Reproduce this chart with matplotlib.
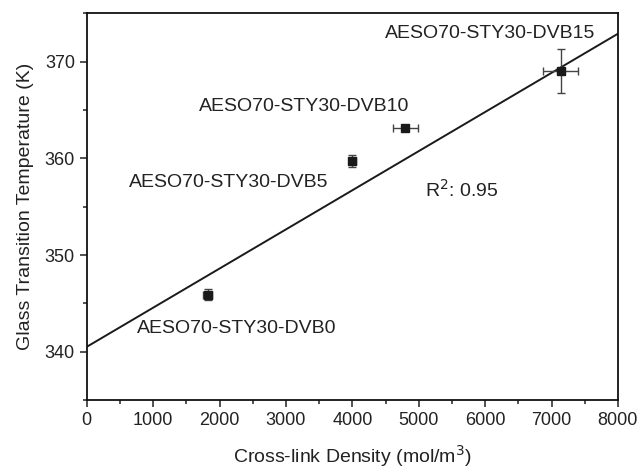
import numpy as np
import matplotlib.pyplot as plt
from matplotlib.ticker import MultipleLocator

plt.rcParams['font.family'] = ['Liberation Sans', 'DejaVu Sans']

# data
samples = ['AESO70-STY30-DVB0', 'AESO70-STY30-DVB5', 'AESO70-STY30-DVB10', 'AESO70-STY30-DVB15']
crosslink = [1822, 4000, 4797, 7138]
crosslink_err = [70, 50, 188, 264]
tg = [345.9, 359.7, 363.1, 369.0]
tg_err = [0.6, 0.6, 0.2, 2.27]

# linear fit line shown in the figure
fit_intercept = 340.5
fit_slope = 0.00405
r2 = 0.95

fig = plt.figure(figsize=(6.4, 4.68), dpi=100)
ax = fig.add_axes([0.1355, 0.1453, 0.830, 0.826])

xs = np.array([0, 8000])
ax.plot(xs, fit_intercept + fit_slope * xs, color='#1a1a1a', lw=1.4)

ax.errorbar(crosslink, tg, xerr=crosslink_err, yerr=tg_err, fmt='s', color='#1a1a1a',
            ms=5.5, ecolor='#444444', elinewidth=1, capsize=3, capthick=1)

label_pos = [(2266, 342.4), (2143, 357.5), (3280, 365.35), (6074, 372.9)]
for name, (lx, ly) in zip(samples, label_pos):
    ax.text(lx, ly, name, ha='center', va='center', fontsize=14, color='#222222')

ax.text(5095, 356.7, r'R$^2$: %.2f' % r2, ha='left', va='center', fontsize=14, color='#222222')

ax.set_xlim(0, 8000)
ax.set_ylim(335, 375)
ax.xaxis.set_major_locator(MultipleLocator(1000))
ax.xaxis.set_minor_locator(MultipleLocator(500))
ax.yaxis.set_major_locator(MultipleLocator(10))
ax.yaxis.set_minor_locator(MultipleLocator(5))
ax.set_yticks([340, 350, 360, 370])
ax.tick_params(which='both', direction='out', top=False, right=False, labelsize=13,
               colors='#222222', width=1.1)
ax.tick_params(which='major', length=5)
ax.tick_params(which='minor', length=3)
for s in ax.spines.values():
    s.set_linewidth(1.3)
    s.set_color('#111111')

ax.set_xlabel('Cross-link Density (mol/m$^3$)', fontsize=14, color='#222222', labelpad=10)
ax.set_ylabel('Glass Transition Temperature (K)', fontsize=14, color='#222222', labelpad=8)

fig.savefig('out.png', dpi=100)
